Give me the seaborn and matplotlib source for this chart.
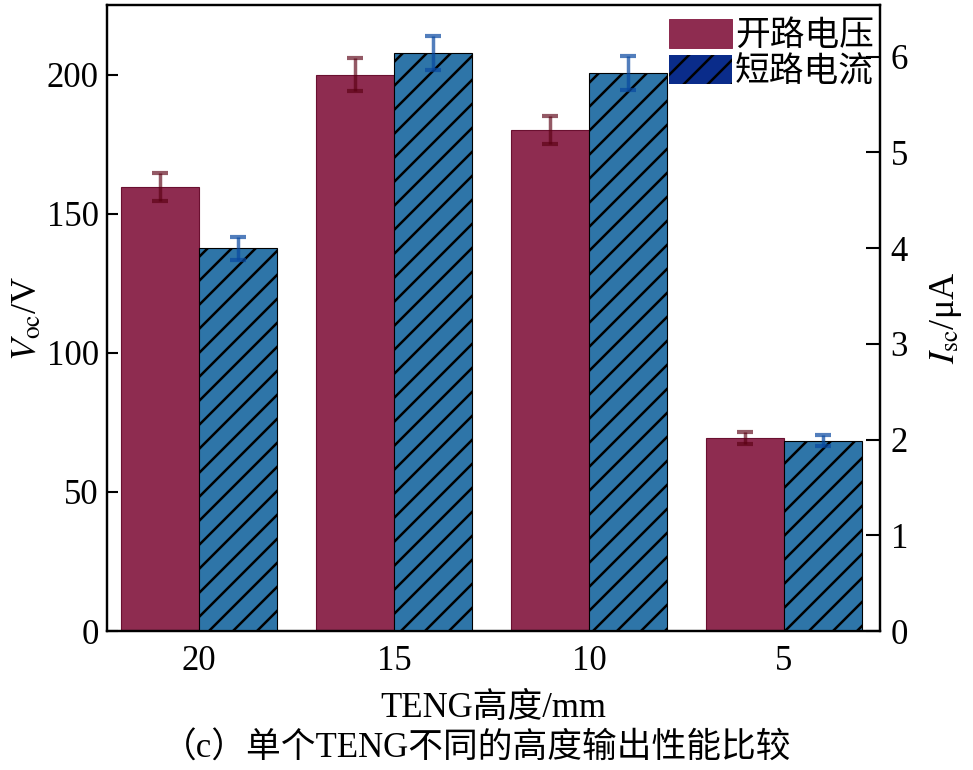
import pandas as pd
import matplotlib
matplotlib.use("Agg")
import matplotlib.pyplot as plt
import seaborn as sns
from matplotlib.patches import Patch

# 数据
heights = ["20", "15", "10", "5"]
voc = [159.5, 200.0, 180.0, 69.5]
voc_err = [5.0, 6.0, 5.0, 2.2]
isc = [4.0, 6.04, 5.83, 1.99]
isc_err = [0.12, 0.18, 0.18, 0.06]
series = ["开路电压", "短路电流"]

# dpi 72 so the hatch lines get the reference spacing; S keeps sizes in pixels
DPI = 72
S = 100 / DPI

sns.set_theme(style="white")
plt.rcParams["font.family"] = ["Liberation Serif", "Noto Sans CJK SC"]
plt.rcParams["mathtext.fontset"] = "stix"
plt.rcParams["hatch.linewidth"] = 1.8 * S
for k in ("text.color", "axes.labelcolor", "xtick.color", "ytick.color"):
    plt.rcParams[k] = "black"

red = "#8E2C50"
blue = "#2E75A8"

df_v = pd.DataFrame({"h": heights, "val": voc, "s": series[0]})
df_i = pd.DataFrame({"h": heights, "val": isc, "s": series[1]})

fig, ax = plt.subplots(figsize=(973 / DPI, 770 / DPI), dpi=DPI)
fig.subplots_adjust(left=0.110, right=0.904, top=0.9935, bottom=0.1805)
ax2 = ax.twinx()

sns.barplot(data=df_v, x="h", y="val", hue="s", hue_order=series, order=heights,
            palette=[red, blue], width=0.8, dodge=True, errorbar=None, legend=False,
            ax=ax, edgecolor="#6a1030", linewidth=0.8 * S, saturation=1)
sns.barplot(data=df_i, x="h", y="val", hue="s", hue_order=series, order=heights,
            palette=[red, blue], width=0.8, dodge=True, errorbar=None, legend=False,
            ax=ax2, edgecolor="black", linewidth=0.8 * S, saturation=1)
for p in ax2.patches:
    p.set_hatch("/")

# 误差棒
xv = [p.get_x() + p.get_width() / 2 for p in ax.patches][:len(heights)]
xi = [p.get_x() + p.get_width() / 2 for p in ax2.patches][:len(heights)]
ax.errorbar(xv, voc, yerr=voc_err, fmt="none", ecolor="#5a0012", alpha=0.65,
            elinewidth=2.5 * S, capsize=6 * S, capthick=3 * S, zorder=5)
ax2.errorbar(xi, isc, yerr=isc_err, fmt="none", ecolor="#0848a0", alpha=0.7,
             elinewidth=2.5 * S, capsize=6 * S, capthick=3 * S, zorder=5)

ax.set_xlim(-0.47, 3.49)
ax.set_ylim(0, 225)
ax2.set_ylim(0, 6.54)
ax.set_yticks([0, 50, 100, 150, 200])
ax2.set_yticks([0, 1, 2, 3, 4, 5, 6])

ax.set_xlabel("TENG高度/mm", fontsize=25 * S, labelpad=10 * S)
ax.set_ylabel(r"$V_{\rm oc}$/V", fontsize=26 * S, labelpad=2 * S)
ax2.set_ylabel(r"$I_{\rm sc}$/μA", fontsize=26 * S, labelpad=14 * S)

ax.tick_params(axis="y", direction="in", length=8 * S, width=1.5 * S,
               labelsize=25 * S, pad=6 * S)
ax2.tick_params(axis="y", direction="in", length=10 * S, width=1.5 * S,
                labelsize=25 * S, pad=8 * S)
ax.tick_params(axis="x", length=0, labelsize=25 * S, pad=10 * S)
for a in (ax, ax2):
    for sp in a.spines.values():
        sp.set_color("black")
        sp.set_linewidth(1.6 * S)

handles = [Patch(facecolor=red, edgecolor=red),
           Patch(facecolor="#0A2C8A", edgecolor="black", linewidth=0, hatch="/")]
leg = ax2.legend(handles, series, loc="upper right", bbox_to_anchor=(1.011, 1.0),
                 frameon=False, fontsize=25 * S, handlelength=1.8, handleheight=0.9,
                 handletextpad=0.1, labelspacing=0.05, borderaxespad=0.0)

fig.text(0.49, 0.027, "（c）单个TENG不同的高度输出性能比较", ha="center", va="center",
         fontsize=25 * S)

fig.savefig("out.png", dpi=DPI)
